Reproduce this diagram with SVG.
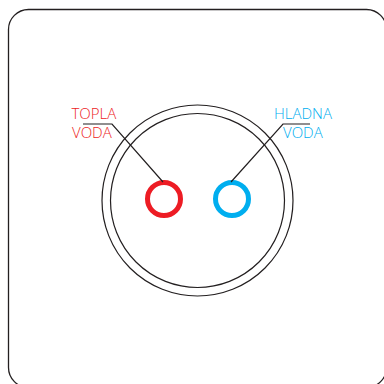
<svg xmlns="http://www.w3.org/2000/svg" width="384" height="384" viewBox="0 0 384 384">
<style>
.ln{fill:none;stroke:#231f20;stroke-width:1.2}
.t{font-family:"Open Sans","Liberation Sans",sans-serif;font-size:15px;font-weight:300}
.red{fill:#ed1c24}
.blue{fill:#00aeef}
</style>
<rect x="8.5" y="9.5" width="378" height="378" rx="20" fill="#fff" stroke="#231f20" stroke-width="1.3"/>
<g id="socket">
<circle class="ln" cx="197.5" cy="200.5" r="95.5"/>
<circle class="ln" cx="197.5" cy="200.5" r="87"/>
</g>
<g id="hot">
<circle cx="164" cy="199" r="16.5" fill="none" stroke="#ed1c24" stroke-width="5"/>
<text class="t red" x="71.5" y="119">TOPLA</text>
<text class="t red" x="72" y="138">VODA</text>
</g>
<g id="cold">
<circle cx="232" cy="199" r="16.5" fill="none" stroke="#00aeef" stroke-width="5"/>
<text class="t blue" x="274" y="119">HLADNA</text>
<text class="t blue" x="283" y="138">VODA</text>
</g>
<g id="connectors">
<polyline class="ln" points="83,124 112,124 163,182"/>
<polyline class="ln" points="310,124 283,124 231,182"/>
</g>
</svg>
